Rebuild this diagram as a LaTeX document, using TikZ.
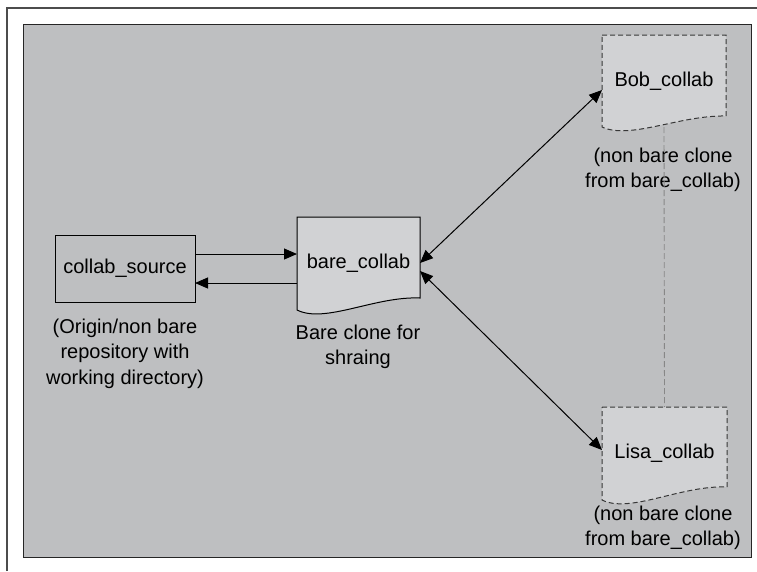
\documentclass[tikz,border=0pt]{standalone}
\usepackage{fontspec}
\setmainfont{Liberation Sans}
\usetikzlibrary{arrows.meta}
\definecolor{bggray}{RGB}{190,191,193}
\definecolor{docgray}{RGB}{209,210,212}
\definecolor{dashgray}{RGB}{55,55,55}
\definecolor{guidegray}{RGB}{135,135,135}
\pgfdeclarelayer{docs}
\pgfsetlayers{docs,main}
\begin{document}
\begin{tikzpicture}[x=1pt,y=-1pt,
  every node/.style={font=\fontsize{20}{25.5}\selectfont, inner sep=0pt, outer sep=0pt},
  frameline/.style={draw=black!70, line width=1.2pt},
  panel/.style={fill=bggray, draw=black!85, line width=1pt},
  srcbox/.style={draw=black, line width=1pt, minimum width=140pt, minimum height=67pt},
  docbox/.style={minimum width=123pt, minimum height=93pt},
  doc/.style={fill=docgray, draw=black, line width=1pt},
  clonedoc/.style={fill=docgray, draw=dashgray, line width=1pt, dash pattern=on 5pt off 3pt},
  link/.style={draw=black, line width=1pt, -{Triangle[length=13pt,width=11pt]}},
  twoway/.style={draw=black, line width=1pt, {Triangle[length=13pt,width=11pt]}-{Triangle[length=13pt,width=11pt]}},
  guide/.style={draw=guidegray, line width=0.9pt, dash pattern=on 6pt off 3pt},
  notetext/.style={align=center}]
\useasboundingbox (0,0) rectangle (757,571);

% frames
\begin{pgfonlayer}{docs}
\draw[frameline] (7,571) -- (7,8) -- (757,8);
\draw[panel] (23,24) rectangle (751,557);
\end{pgfonlayer}

% nodes
\node[srcbox] (src) at (125,268.5) {collab\_source};
\node[docbox] (bare) at (358.5,263.5) {bare\_collab};
\node[docbox, minimum width=124pt, minimum height=92pt] (bob) at (664,81) {Bob\_collab};
\node[docbox, minimum width=125pt] (lisa) at (664.5,453.5) {Lisa\_collab};

% document shapes
\begin{pgfonlayer}{docs}
\draw[doc] (bare.north west) -- (bare.north east) -- ([yshift=12pt]bare.south east)
  .. controls +(-45,-2) and +(28,14) .. (bare.south west) -- cycle;
\draw[clonedoc] (bob.north west) -- (bob.north east) -- ([yshift=11pt]bob.south east)
  .. controls +(-46,-1) and +(28,13) .. (bob.south west) -- cycle;
\draw[clonedoc] (lisa.north west) -- (lisa.north east) -- ([yshift=13pt]lisa.south east)
  .. controls +(-46,-2) and +(28,14) .. (lisa.south west) -- cycle;
\end{pgfonlayer}

% labels
\node[notetext] (srcLbl) at (125,353.5) {(Origin/non bare\\repository with\\working directory)};
\node[notetext] (bareLbl) at (358,347) {Bare clone for\\shraing};
\node[notetext] (bobLbl) at (663,170) {(non bare clone\\from bare\_collab)};
\node[notetext] (lisaLbl) at (663,528) {(non bare clone\\from bare\_collab)};

% connectors
\draw[link] (src.east |- 0,254) -- (bare.west |- 0,254);
\draw[link] (bare.west |- 0,283) -- (src.east |- 0,283);
\draw[twoway] (bare.east |- 0,263) -- (bob.west |- 0,90);
\draw[twoway] (bare.east |- 0,271) -- (lisa.west |- 0,450);
\draw[guide] (bob.south) -- (lisa.north);
\end{tikzpicture}
\end{document}
